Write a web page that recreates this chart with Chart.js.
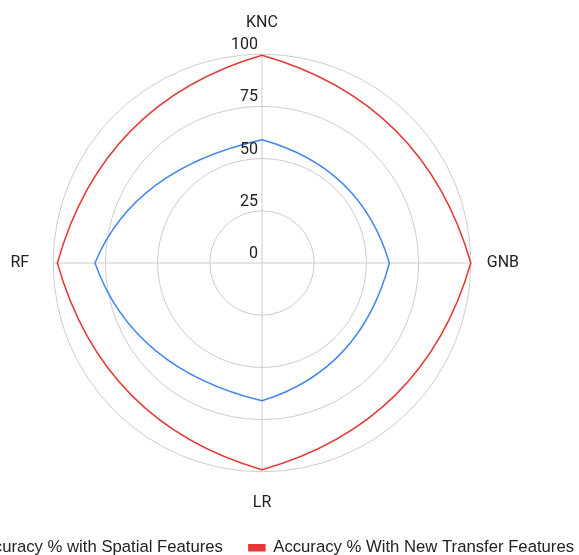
<!DOCTYPE html>
<html>
<head>
<meta charset="utf-8">
<title>Accuracy radar</title>
<script src="https://cdn.jsdelivr.net/npm/chart.js@4/dist/chart.umd.min.js"></script>
<style>
  html, body { margin: 0; padding: 0; background: #fff; overflow: hidden; }
  .wrap { position: relative; width: 579px; height: 555px; overflow: hidden; }
  /* canvas is wider than the window so the legend stays on one row, as in the source */
  #radar { position: absolute; left: -88px; top: 0; }
</style>
</head>
<body>
<div class="wrap">
  <canvas id="radar" width="700" height="566"></canvas>
</div>
<script>
/* ── DATA ── */
const categories = ['KNC', 'GNB', 'LR', 'RF'];
const spatialAcc = [59, 61, 66, 80];
const transferAcc = [99.5, 100, 99, 98];
const tickValues = [0, 25, 50, 75, 100];

const COLORS = {
  blue: '#4285f4',
  red: '#e53935',
  grid: '#cccccc',
  text: '#222222',
};

/* per-axis gap between ring and category label: top, right, bottom, left */
const labelPad = [22, 16, 22, 24];
/* how far each segment bows out from the chord toward the ring (0 = straight) */
const bowFactor = 0.67;

/* ── TICK LABELS (left of the vertical axis, sitting on each ring) ── */
const tickLabels = {
  id: 'tickLabels',
  afterDatasetsDraw(chart) {
    const r = chart.scales.r;
    const ctx = chart.ctx;
    ctx.save();
    ctx.font = '16px Roboto';
    ctx.fillStyle = COLORS.text;
    ctx.textAlign = 'right';
    ctx.textBaseline = 'alphabetic';
    tickValues.forEach(v => {
      const y = r.yCenter - r.getDistanceFromCenterForValue(v);
      ctx.fillText(String(v), r.xCenter - 4, y - 5);
    });
    ctx.restore();
  }
};

/* ── BOWED SEGMENTS: pointed at each axis, bulging between them ── */
const bowedSegments = {
  id: 'bowedSegments',
  beforeDatasetDraw(chart, args) {
    const line = args.meta.dataset;
    const pts = args.meta.data;
    const r = chart.scales.r;
    if (!line || !pts.length) return;
    line.updateControlPoints(chart.chartArea);
    const cx = r.xCenter, cy = r.yCenter;
    const n = pts.length;
    for (let i = 0; i < n; i++) {
      const a = pts[i], b = pts[(i + 1) % n];
      const mx = (a.x + b.x) / 2 - cx, my = (a.y + b.y) / 2 - cy;
      const m = Math.hypot(mx, my) || 1;
      const ravg = (Math.hypot(a.x - cx, a.y - cy) + Math.hypot(b.x - cx, b.y - cy)) / 2;
      const h = bowFactor * (ravg - m) / 0.75;
      const ox = h * mx / m, oy = h * my / m;
      a.cp2x = a.x + (b.x - a.x) / 3 + ox;
      a.cp2y = a.y + (b.y - a.y) / 3 + oy;
      b.cp1x = a.x + 2 * (b.x - a.x) / 3 + ox;
      b.cp1y = a.y + 2 * (b.y - a.y) / 3 + oy;
    }
    line._path = undefined;
  }
};

new Chart(document.getElementById('radar'), {
  type: 'radar',
  data: {
    labels: categories,
    datasets: [
      {
        label: 'Accuracy % with Spatial Features',
        data: spatialAcc,
        borderColor: COLORS.blue,
        backgroundColor: COLORS.blue,
      },
      {
        label: 'Accuracy % With New Transfer Features',
        data: transferAcc,
        borderColor: COLORS.red,
        backgroundColor: COLORS.red,
      },
    ],
  },
  options: {
    responsive: false,
    animation: false,
    layout: { padding: { top: 13 } },
    elements: {
      line: { tension: 0.3, borderWidth: 1.5, fill: false },
      point: { radius: 0, hoverRadius: 0 },
    },
    plugins: {
      legend: {
        position: 'bottom',
        labels: {
          boxWidth: 16, boxHeight: 6, padding: 26,
          font: { family: "'Liberation Sans', Arial, sans-serif", size: 16.7 }, color: COLORS.text,
        },
      },
      tooltip: { enabled: false },
    },
    scales: {
      r: {
        min: 0, max: 100,
        ticks: { stepSize: 25, display: false },
        grid: { circular: true, color: COLORS.grid, lineWidth: 1 },
        angleLines: { color: COLORS.grid, lineWidth: 1 },
        pointLabels: {
          font: { family: 'Roboto', size: 16 },
          color: COLORS.text,
          padding: ctx => labelPad[ctx.index],
        },
      },
    },
  },
  plugins: [tickLabels, bowedSegments],
});
</script>
</body>
</html>
